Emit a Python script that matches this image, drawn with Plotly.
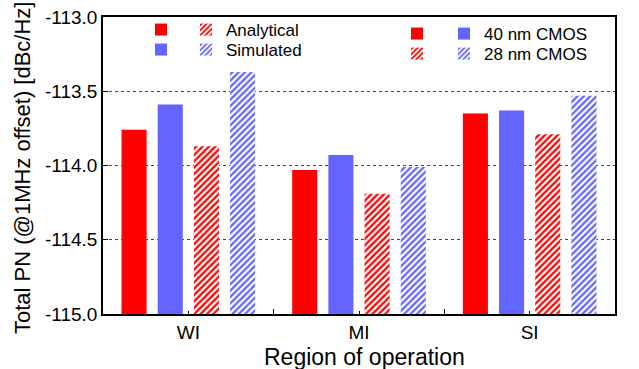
import plotly.graph_objects as go

# ---- data ----
categories = ["WI", "MI", "SI"]
analytical_40nm = [-113.76, -114.03, -113.65]
simulated_40nm = [-113.59, -113.93, -113.63]
analytical_28nm = [-113.87, -114.19, -113.79]
simulated_28nm = [-113.37, -114.01, -113.53]

y_floor = -115.0
y_ceil = -113.0
ytick_vals = [-115.0, -114.5, -114.0, -113.5, -113.0]
ytick_text = ["-115.0", "-114.5", "-114.0", "-113.5", "-113.0"]

x_title = "Region of operation"
y_title = "Total PN (@1MHz offset) [dBc/Hz]"

RED = "#FF0000"
BLUE = "#6464FF"
FONT = "Arial, 'Liberation Sans', sans-serif"

W, H = 639, 369
ML, MR, MT, MB = 103, 24, 17, 55
PW, PH = W - ML - MR, H - MT - MB


def heights(vals):
    return [v - y_floor for v in vals]


def hatch(color):
    return dict(shape="/", fgcolor=color, bgcolor="white", size=4.5,
                solidity=0.5, fgopacity=1)


series = [
    (analytical_40nm, RED, None),
    (simulated_40nm, BLUE, None),
    (analytical_28nm, RED, "hatch"),
    (simulated_28nm, BLUE, "hatch"),
]

fig = go.Figure()
for vals, col, pat in series:
    marker = dict(color=col if pat is None else "white", line=dict(width=0))
    if pat:
        marker["pattern"] = hatch(col)
    fig.add_trace(go.Bar(x=categories, y=heights(vals), base=y_floor,
                         marker=marker, showlegend=False))


# legend-only entries, one legend per row, drawn on a hidden pair of axes
def legend_entry(col, pat, name, legend):
    marker = dict(color=col if not pat else "white", line=dict(width=0))
    if pat:
        marker["pattern"] = hatch(col)
    fig.add_trace(go.Bar(x=[categories[0]], y=[0], marker=marker, name=name,
                         xaxis="x2", yaxis="y2",
                         legend=legend, showlegend=True, hoverinfo="skip"))


def leg(xpx, ypx):
    return dict(xref="container", yref="container", x=xpx / W, y=1 - ypx / H,
                xanchor="left", yanchor="top", bgcolor="rgba(0,0,0,0)",
                font=dict(family=FONT, size=17, color="black"),
                itemclick=False, itemdoubleclick=False)


entries = [
    (RED, False, " ", "legend", 141, 12),
    (BLUE, False, " ", "legend2", 141, 32),
    (RED, True, "Analytical", "legend3", 186, 12),
    (BLUE, True, "Simulated", "legend4", 186, 32),
    (RED, False, " ", "legend5", 397, 16),
    (RED, True, " ", "legend6", 397, 36),
    (BLUE, False, "40 nm CMOS", "legend7", 444, 16),
    (BLUE, True, "28 nm CMOS", "legend8", 444, 36),
]
legends = {}
for col, pat, name, lg, lx, ly in entries:
    legend_entry(col, pat, name, lg)
    legends[lg] = leg(lx, ly)

fig.update_layout(
    width=W, height=H,
    margin=dict(l=ML, r=MR, t=MT, b=MB, autoexpand=False),
    paper_bgcolor="white", plot_bgcolor="white",
    barmode="group", bargap=0.152, bargroupgap=0.307,
    font=dict(family=FONT, color="black"),
    **legends,
    xaxis2=dict(type="category", categoryorder="array", categoryarray=categories,
                range=[-0.5, 2.5], overlaying="x", anchor="y2", side="bottom",
                ticks="inside", ticklen=3, tickcolor="black", tickwidth=1,
                showticklabels=False, showline=False, showgrid=False,
                fixedrange=True),
    yaxis2=dict(visible=False, overlaying="y", range=[5, 6], fixedrange=True),
    annotations=[
        dict(text=x_title, xref="paper", yref="paper",
             x=(364 - ML) / PW, y=(MT + PH - 357) / PH,
             xanchor="center", yanchor="middle", showarrow=False,
             font=dict(size=23, family=FONT, color="black")),
        dict(text=y_title, xref="paper", yref="paper",
             x=(22 - ML) / PW, y=(MT + PH - 168) / PH, textangle=-90,
             xanchor="center", yanchor="middle", showarrow=False,
             font=dict(size=22, family=FONT, color="black")),
    ],
)

fig.layout.xaxis.update(
    type="category", categoryorder="array", categoryarray=categories,
    range=[-0.5, 2.5], tickson="boundaries",
    ticks="inside", ticklen=5, tickcolor="black", tickwidth=1,
    showline=True, linecolor="black", linewidth=1.5, mirror=True,
    showgrid=False, tickfont=dict(size=19, family=FONT),
)
fig.layout.yaxis.update(
    range=[y_floor, y_ceil], tickvals=ytick_vals, ticktext=ytick_text,
    ticks="inside", ticklen=5, tickcolor="black", tickwidth=1,
    showline=True, linecolor="black", linewidth=1.5, mirror=True,
    showgrid=True, gridcolor="#444444", griddash="dot", gridwidth=1,
    zeroline=False, tickfont=dict(size=19, family=FONT),
)

fig.write_html(
    "out.html",
    config={"displayModeBar": False},
    post_script="document.body.style.margin='0px';document.body.style.padding='0px';",
)
